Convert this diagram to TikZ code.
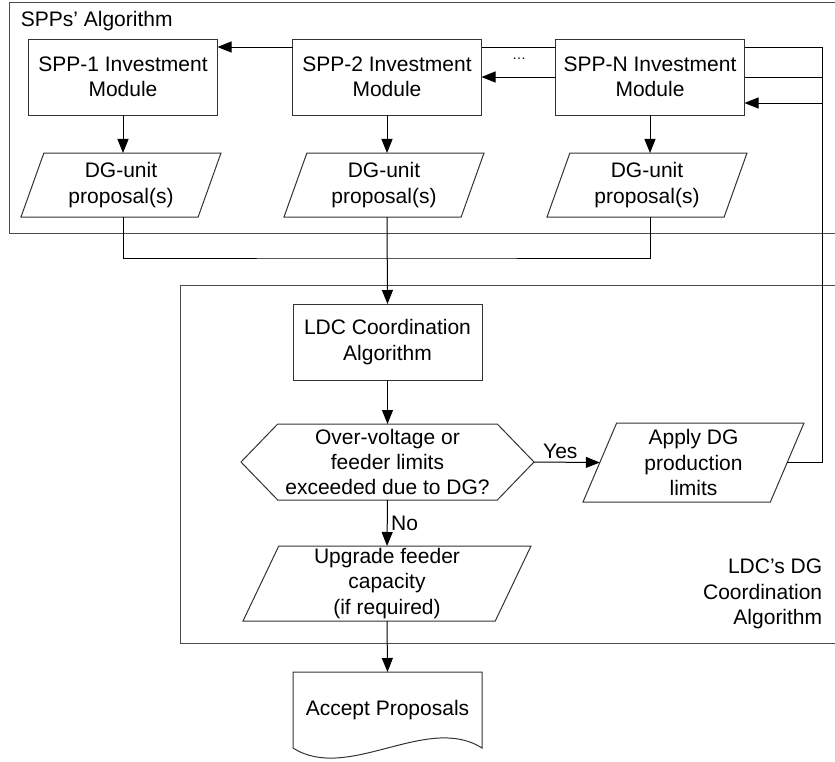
\documentclass[tikz,border=0pt]{standalone}
\usepackage{fontspec}
\setmainfont{Liberation Sans}
\usetikzlibrary{positioning,shapes.geometric,shapes.symbols,arrows.meta}

\begin{document}
\begin{tikzpicture}[x=1pt,y=-1pt,line width=1pt,
        >={Triangle[length=14pt,width=11pt]},
        every node/.append style={font=\fontsize{21}{25.3}\selectfont},
        module/.style={draw=black!80,fill=white,align=center,minimum width=189pt,
            minimum height=76pt,inner sep=0pt,outer sep=0pt},
        io/.style={draw=black!80,fill=white,align=center,trapezium,
            trapezium left angle=63,trapezium right angle=117,
            trapezium stretches body,inner sep=0pt,outer sep=0pt},
        frame/.style={draw=black!70}]
        \clip (0,0) rectangle (835,761);
        % outer frames
        \draw[frame] (9,2) rectangle (850,233);
        \draw[frame] (180,285) rectangle (850,643);
        \node[anchor=west] (sppalg) at (17,21) {SPPs’ Algorithm};
        \node[anchor=east,align=right] (ldcalg) at (826,594) {LDC’s DG\\Coordination\\Algorithm};
        % SPP modules
        \node[module] (spp1) at (123,77) {SPP-1 Investment\\Module};
        \node[module] (spp2) at (387,77) {SPP-2 Investment\\Module};
        \node[module] (sppN) at (650,77) {SPP-N Investment\\Module};
        \node[font=\fontsize{14}{16}\selectfont] (dots) at (519,59) {…};
        \node[io,minimum width=200pt,minimum height=64pt] (dg1) at (121,185) {DG-unit\\proposal(s)};
        \node[io,minimum width=200pt,minimum height=64pt] (dg2) at (384,185) {DG-unit\\proposal(s)};
        \node[io,minimum width=200pt,minimum height=64pt] (dgN) at (647,185) {DG-unit\\proposal(s)};
        % LDC algorithm
        \node[module] (ldc) at (387.5,342) {LDC Coordination\\Algorithm};
        \node[draw=black!80,fill=white,signal,signal to=west and east,signal pointer angle=92,
            minimum width=293pt,minimum height=76pt,inner sep=0pt,outer sep=0pt,align=center]
            (check) at (387.5,462) {Over-voltage or\\feeder limits\\exceeded due to DG?};
        \node[io,minimum width=221pt,minimum height=79pt] (apply) at (693.5,462.5) {Apply DG\\production\\limits};
        \node[io,minimum width=288pt,minimum height=75pt] (upgrade) at (387,583.5) {Upgrade feeder\\capacity\\(if required)};
        \node[minimum width=189pt,minimum height=76pt,inner sep=0pt,outer sep=0pt] (accept) at (387.5,710) {Accept Proposals};
        \draw[black!80] (accept.south west) -- (accept.north west) -- (accept.north east) -- (accept.south east)
            .. controls +(-55,-35) and +(55,35) .. (accept.south west);
        % proposals to LDC
        \coordinate (join) at (387,258);
        \draw[->] (spp1.south) -- (spp1.south |- dg1.north);
        \draw[->] (spp2.south) -- (spp2.south |- dg2.north);
        \draw[->] (sppN.south) -- (sppN.south |- dgN.north);
        \draw (spp1.south |- dg1.south) |- (join) -| (sppN.south |- dgN.south);
        \draw[->] (spp2.south |- dg2.south) -- (ldc.north);
        \draw[->] (ldc.south) -- (check.north);
        \draw[->] (check.east) -- node[above,pos=0.4] {Yes} (apply.west);
        \draw[->] (check.south) -- node[right] {No} (upgrade.north);
        \draw[->] (upgrade.south) -- (accept.north);
        % feedback to the SPPs
        \coordinate (fb1) at (822,47);
        \coordinate (fb2) at (822,77);
        \coordinate (fb3) at (822,103);
        \draw (apply.east) -| (fb1) -- (sppN.east |- fb1);
        \draw (sppN.west |- fb1) -- (spp2.east |- fb1);
        \draw[->] (spp2.west |- fb1) -- (spp1.east |- fb1);
        \draw (fb2) -- (sppN.east |- fb2);
        \draw[->] (sppN.west |- fb2) -- (spp2.east |- fb2);
        \draw[->] (fb3) -- (sppN.east |- fb3);
\end{tikzpicture}
\end{document}
